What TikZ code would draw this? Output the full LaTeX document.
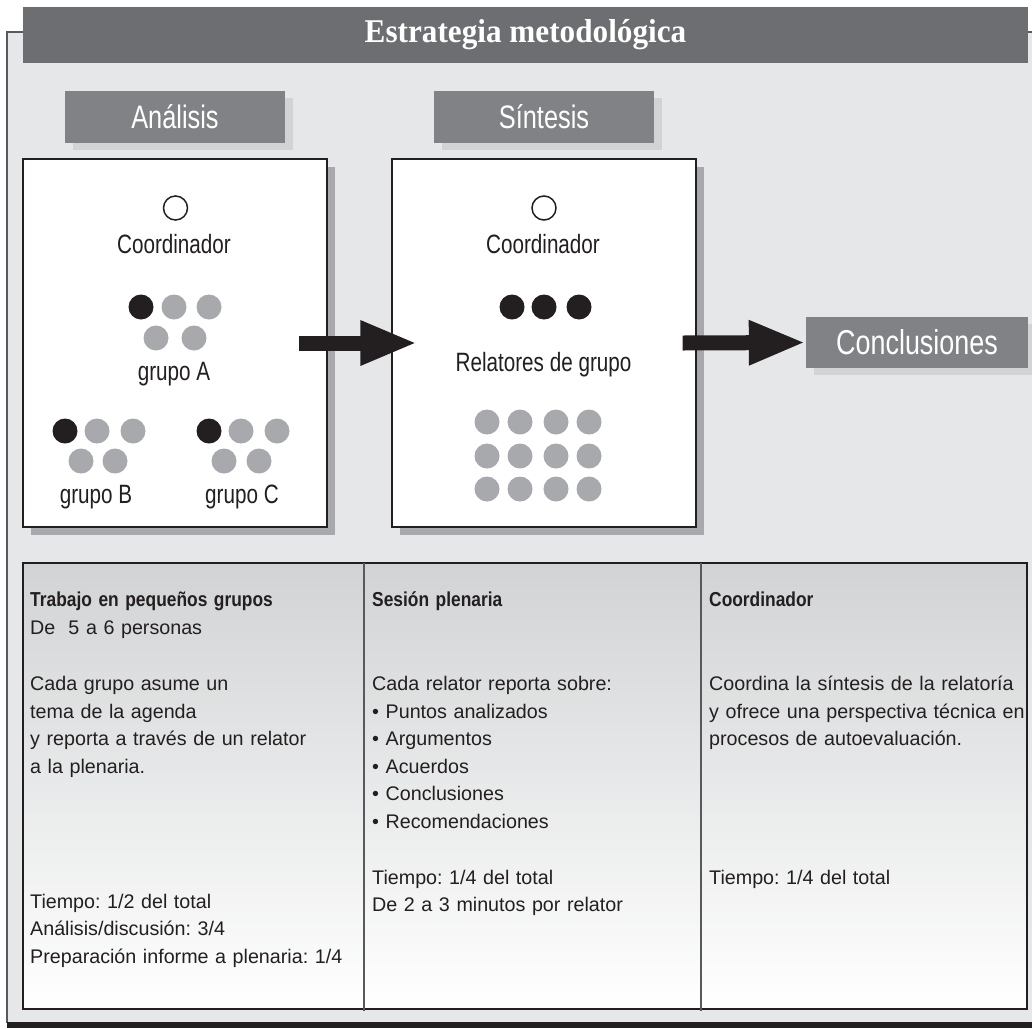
\documentclass[tikz,border=0pt]{standalone}
\usepackage{fontspec}
\setmainfont{Liberation Sans}
\newfontfamily\estrecha[FakeStretch=0.78]{Liberation Sans}
\newfontfamily\negrita[FakeStretch=0.86]{Liberation Sans}
\newfontfamily\serifa[FakeStretch=0.94]{Liberation Serif}
\usepackage{tikz}
\usetikzlibrary{shadows}
\usetikzlibrary{arrows.meta}
\usetikzlibrary{positioning}
\frenchspacing
\definecolor{fondo}{HTML}{E6E7E8}
\definecolor{tituloGris}{HTML}{6D6E71}
\definecolor{grisEtiqueta}{HTML}{808285}
\definecolor{sombraEtiqueta}{HTML}{D1D3D4}
\definecolor{sombraCaja}{HTML}{A7A9AC}
\definecolor{grisPunto}{HTML}{A7A9AC}
\definecolor{negro}{HTML}{231F20}
\definecolor{grisTabla}{HTML}{D1D3D4}
\definecolor{grisLinea}{HTML}{58595B}
\tikzstyle{etiqueta}=[fill=grisEtiqueta, text=white, inner sep=0,
    font=\estrecha\fontsize{32.5}{36}\selectfont,
    minimum width=220, minimum height=52,
    drop shadow={shadow xshift=8pt, shadow yshift=-7pt, fill=sombraEtiqueta, opacity=1}]
\tikzstyle{caja}=[draw=negro, fill=white, line width=1.2,
    minimum width=304, minimum height=368,
    drop shadow={shadow xshift=8pt, shadow yshift=-8pt, fill=sombraCaja, opacity=1}]
\tikzstyle{punto}=[circle, minimum size=25, inner sep=0, fill=grisPunto]
\tikzstyle{puntonegro}=[punto, fill=negro]
\tikzstyle{coord}=[circle, draw=negro, line width=1.5, minimum size=24, inner sep=0, fill=white]
\tikzstyle{rotulo}=[anchor=base, inner sep=0, text=negro, font=\estrecha\fontsize{26.5}{30}\selectfont]
\tikzstyle{texto}=[anchor=base west, inner sep=0, align=left, text width=360, text=negro,
    font=\fontsize{19.7}{27.5}\selectfont]
\tikzstyle{flecha}=[draw=negro, line width=15, -{Triangle[length=57pt, width=41pt]}]

\begin{document}
\begin{tikzpicture}[x=1pt, y=-1pt]
          \useasboundingbox (0,0) rectangle (1032,1028);
          \fill[fondo] (7,32) rectangle (1032,1023);
          \draw[grisLinea, line width=2] (1032,32) -- (7,32) -- (7,1023);
          \fill[negro] (7,1022) rectangle (1032,1028);
          \node[fill=tituloGris, text=white, minimum width=1005, minimum height=56, inner sep=0,
                font=\serifa\bfseries\fontsize{33.2}{36}\selectfont] (titulo) at (525.5,35) {Estrategia metodológica};
          \node[etiqueta] (analisis) at (175,117) {Análisis};
          \node[etiqueta] (sintesis) at (544,117) {Síntesis};
          \node[caja] (cajaA) at (175,343) {};
          \node[caja] (cajaS) at (544,343) {};
          \node[etiqueta, minimum width=222, minimum height=51, font=\estrecha\fontsize{34.5}{38}\selectfont] (concl) at (917,342.5) {Conclusiones};
          \node[coord] (coordA) at (175.5,208) {};
          \node[rotulo] (txtCoordA) at (174,253) {Coordinador};
          \node[puntonegro] (gA1) at (141,307) {};
          \node[punto] (gA2) at (174,307) {};
          \node[punto] (gA3) at (209,307) {};
          \node[punto] (gA4) at (156,338) {};
          \node[punto] (gA5) at (194,338) {};
          \node[rotulo] (txtA) at (174,380) {grupo A};
          \node[puntonegro] (gB1) at (65,431) {};
          \node[punto] (gB2) at (97,431) {};
          \node[punto] (gB3) at (133,431) {};
          \node[punto] (gB4) at (81,461) {};
          \node[punto] (gB5) at (115,461) {};
          \node[rotulo] (txtB) at (96,503) {grupo B};
          \node[puntonegro] (gC1) at (209,431) {};
          \node[punto] (gC2) at (241,431) {};
          \node[punto] (gC3) at (277,431) {};
          \node[punto] (gC4) at (224,461) {};
          \node[punto] (gC5) at (259,461) {};
          \node[rotulo] (txtC) at (242,503) {grupo C};
          \node[coord] (coordS) at (544,208) {};
          \node[rotulo] (txtCoordS) at (543,253) {Coordinador};
          \node[puntonegro] (rel1) at (512,307) {};
          \node[puntonegro] (rel2) at (544,307) {};
          \node[puntonegro] (rel3) at (579,307) {};
          \node[rotulo] (txtRel) at (543.5,371) {Relatores de grupo};
          \node[punto] (p11) at (487,422) {};
          \node[punto] (p12) at (520,422) {};
          \node[punto] (p13) at (556,422) {};
          \node[punto] (p14) at (589,422) {};
          \node[punto] (p21) at (487,456) {};
          \node[punto] (p22) at (520,456) {};
          \node[punto] (p23) at (556,456) {};
          \node[punto] (p24) at (589,456) {};
          \node[punto] (p31) at (487,489) {};
          \node[punto] (p32) at (520,489) {};
          \node[punto] (p33) at (556,489) {};
          \node[punto] (p34) at (589,489) {};
          \draw[flecha] ([xshift=-29]cajaA.east) -- ([xshift=26]cajaS.west);
          \draw[flecha] ([xshift=-14]cajaS.east) -- (concl.west);
          \shade[top color=grisTabla, bottom color=white] (23,563) rectangle (1027,1009);
          \draw[negro, line width=1.5] (23,563) rectangle (1027,1009);
          \draw[grisLinea, line width=1.5] (364,563) -- (364,1011);
          \draw[grisLinea, line width=1.5] (701,563) -- (701,1011);
          \node[texto] (t1a) at (30,606.7) {{\negrita\bfseries\fontsize{20.2}{27.5}\selectfont Trabajo en pequeños grupos}\\De\ \ 5 a 6 personas};
          \node[texto] (t1b) at (30,690.7) {Cada grupo asume un\\tema de la agenda\\y reporta a través de un relator\\a la plenaria.};
          \node[texto] (t1c) at (30,908) {Tiempo: 1/2 del total\\Análisis/discusión: 3/4\\Preparación informe a plenaria: 1/4};
          \node[texto] (t2a) at (372,606.7) {{\negrita\bfseries\fontsize{20.2}{27.5}\selectfont Sesión plenaria}};
          \node[texto] (t2b) at (372,690.7) {Cada relator reporta sobre:\\• Puntos analizados\\• Argumentos\\• Acuerdos\\• Conclusiones\\• Recomendaciones};
          \node[texto] (t2c) at (372,884) {Tiempo: 1/4 del total\\De 2 a 3 minutos por relator};
          \node[texto] (t3a) at (709,606.7) {{\negrita\bfseries\fontsize{20.2}{27.5}\selectfont Coordinador}};
          \node[texto] (t3b) at (709,690.7) {Coordina la síntesis de la relatoría\\y ofrece una perspectiva técnica en\\procesos de autoevaluación.};
          \node[texto] (t3c) at (709,884) {Tiempo: 1/4 del total};
        \end{tikzpicture}
\end{document}
